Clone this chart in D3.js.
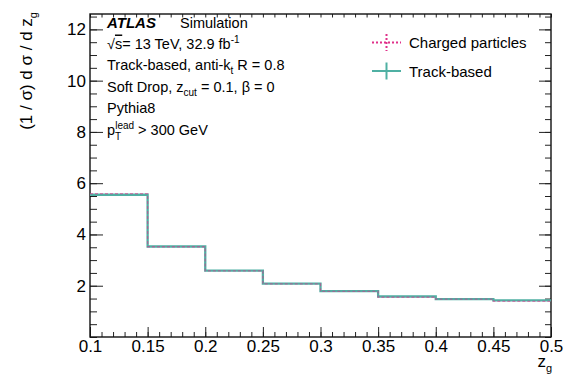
<!DOCTYPE html>
<html>
<head>
<meta charset="utf-8">
<script src="https://cdn.jsdelivr.net/npm/d3@7"></script>
<style>
  html, body { margin: 0; padding: 0; background: #fff; }
  svg { display: block; }
  text { font-family: "Liberation Sans", Arial, Helvetica, sans-serif; fill: #000; }
</style>
</head>
<body>
<svg id="chart" width="575" height="379"></svg>
<script>
// Bin edges of the groomed momentum fraction z_g
const binEdges = [0.1, 0.15, 0.2, 0.25, 0.3, 0.35, 0.4, 0.45, 0.5];
// Normalised distributions (1/sigma) dsigma/dz_g per bin
const chargedValues = [5.59, 3.52, 2.58, 2.07, 1.78, 1.55, 1.48, 1.39];
const trackValues   = [5.55, 3.53, 2.59, 2.08, 1.79, 1.58, 1.48, 1.43];
// Axis ticks
const xTickValues = [0.1, 0.15, 0.2, 0.25, 0.3, 0.35, 0.4, 0.45, 0.5];
const xTickLabels = ["0.1", "0.15", "0.2", "0.25", "0.3", "0.35", "0.4", "0.45", "0.5"];
const yTickValues = [2, 4, 6, 8, 10, 12];
const yTickLabels = ["2", "4", "6", "8", "10", "12"];
const legendLabels = ["Charged particles", "Track-based"];

const pinkColor = "#e0308a";
const tealColor = "#4fb0a3";

const svg = d3.select("#chart");
const margin = { left: 90, right: 24, top: 14, bottom: 42 };
const W = 575, H = 379;
const x0 = margin.left, x1 = W - margin.right;
const y0 = H - margin.bottom, y1 = margin.top;

const x = d3.scaleLinear().domain([0.1, 0.5]).range([x0, x1]);
const y = d3.scaleLinear().domain([0, 12.6]).range([y0, y1]);

const minorX = d3.range(10, 51).map(v => v / 100);
const minorY = d3.range(0, 26).map(v => v / 2).filter(v => v <= 12.5);

function styleAxis(g) {
  g.select(".domain").remove();
  g.selectAll(".tick line").attr("stroke", "#222").attr("stroke-width", 1);
  g.selectAll(".tick text").style("font-size", "17px").attr("fill", "#000");
}

// Bottom axis with labels (ticks point inward)
svg.append("g").attr("transform", `translate(0,${y0})`)
  .call(d3.axisBottom(x).tickValues(xTickValues)
    .tickFormat((d, i) => xTickLabels[i]).tickSize(-10).tickPadding(3))
  .call(styleAxis);
svg.append("g").attr("transform", `translate(0,${y0})`)
  .call(d3.axisBottom(x).tickValues(minorX).tickFormat("").tickSize(-5))
  .call(styleAxis);
// Top axis (short mirrored ticks)
svg.append("g").attr("transform", `translate(0,${y1})`)
  .call(d3.axisTop(x).tickValues(minorX).tickFormat("").tickSize(-3.5))
  .call(styleAxis);
// Left axis with labels
svg.append("g").attr("transform", `translate(${x0},0)`)
  .call(d3.axisLeft(y).tickValues(yTickValues)
    .tickFormat((d, i) => yTickLabels[i]).tickSize(-13).tickPadding(4))
  .call(styleAxis);
svg.append("g").attr("transform", `translate(${x0},0)`)
  .call(d3.axisLeft(y).tickValues(minorY).tickFormat("").tickSize(-7))
  .call(styleAxis);
// Right axis (mirrored ticks)
svg.append("g").attr("transform", `translate(${x1},0)`)
  .call(d3.axisRight(y).tickValues(yTickValues).tickFormat("").tickSize(-12))
  .call(styleAxis);
svg.append("g").attr("transform", `translate(${x1},0)`)
  .call(d3.axisRight(y).tickValues(minorY).tickFormat("").tickSize(-6))
  .call(styleAxis);

// Frame
svg.append("rect")
  .attr("x", x0).attr("y", y1)
  .attr("width", x1 - x0).attr("height", y0 - y1)
  .attr("fill", "none").attr("stroke", "#111").attr("stroke-width", 1.4);

// Step histograms
function stepPoints(values) {
  const pts = [];
  values.forEach((v, i) => {
    pts.push([binEdges[i], v]);
    pts.push([binEdges[i + 1], v]);
  });
  return pts;
}
const stepLine = d3.line().x(d => x(d[0])).y(d => y(d[1]));

svg.append("path")
  .datum(stepPoints(trackValues))
  .attr("d", stepLine)
  .attr("fill", "none").attr("stroke", tealColor).attr("stroke-width", 2.3);

svg.append("path")
  .datum(stepPoints(chargedValues))
  .attr("d", stepLine)
  .attr("fill", "none").attr("stroke", pinkColor).attr("stroke-width", 1.3)
  .attr("stroke-dasharray", "3,2").attr("opacity", 0.55);

// Y axis title
const yTitle = svg.append("text")
  .attr("transform", "translate(32,12) rotate(-90)")
  .attr("text-anchor", "end")
  .style("font-size", "17px");
yTitle.append("tspan").text("(1 / σ) d σ / d z");
yTitle.append("tspan").text("g").style("font-size", "11px").attr("dy", 5);

// X axis title
const xTitle = svg.append("text")
  .attr("x", 552).attr("y", 367)
  .attr("text-anchor", "end")
  .style("font-size", "17px");
xTitle.append("tspan").text("z");
xTitle.append("tspan").text("g").style("font-size", "11px").attr("dy", 5);

// Annotation block
const tx = 107, fs = "14.5px";
const lineY = [27.5, 48.5, 70, 91.5, 113, 134.5];

svg.append("text").attr("x", tx).attr("y", lineY[0])
  .style("font-size", "15px").style("font-weight", "bold").style("font-style", "italic")
  .text("ATLAS");
svg.append("text").attr("x", 180).attr("y", lineY[0])
  .style("font-size", fs).text("Simulation");

const l2 = svg.append("text").attr("x", tx).attr("y", lineY[1]).style("font-size", fs);
l2.append("tspan").text("√");
l2.append("tspan").text("s").style("text-decoration", "overline");
l2.append("tspan").text("= 13 TeV, 32.9 fb");
l2.append("tspan").text("-1").style("font-size", "10px").attr("dy", -6);

const l3 = svg.append("text").attr("x", tx).attr("y", lineY[2]).style("font-size", fs);
l3.append("tspan").text("Track-based, anti-k");
l3.append("tspan").text("t").style("font-size", "10px").attr("dy", 4);
l3.append("tspan").text(" R = 0.8").attr("dy", -4);

const l4 = svg.append("text").attr("x", tx).attr("y", lineY[3]).style("font-size", fs);
l4.append("tspan").text("Soft Drop, z");
l4.append("tspan").text("cut").style("font-size", "10px").attr("dy", 4);
l4.append("tspan").text(" = 0.1, β = 0").attr("dy", -4);

svg.append("text").attr("x", tx).attr("y", lineY[4]).style("font-size", fs).text("Pythia8");

const l6 = svg.append("text").attr("x", tx).attr("y", lineY[5]).style("font-size", fs);
l6.append("tspan").text("p");
l6.append("tspan").text("T").style("font-size", "10px").attr("dy", 5);
l6.append("tspan").text("lead").style("font-size", "10px").attr("dx", -6).attr("dy", -11);
l6.append("tspan").text(" > 300 GeV").attr("dy", 6);

// Legend
const legendRows = [
  { label: legendLabels[0], color: pinkColor, dash: "2,2", y: 42.5 },
  { label: legendLabels[1], color: tealColor, dash: null, y: 71 }
];
const lg = svg.append("g");
legendRows.forEach(r => {
  const hx0 = 372, hx1 = 401, cx = (hx0 + hx1) / 2;
  lg.append("line").attr("x1", hx0).attr("x2", hx1).attr("y1", r.y).attr("y2", r.y)
    .attr("stroke", r.color).attr("stroke-width", 2)
    .attr("stroke-dasharray", r.dash);
  lg.append("line").attr("x1", cx).attr("x2", cx).attr("y1", r.y - 8.5).attr("y2", r.y + 8.5)
    .attr("stroke", r.color).attr("stroke-width", 2)
    .attr("stroke-dasharray", r.dash);
  lg.append("text").attr("x", 409).attr("y", r.y + 5.5)
    .style("font-size", "15px").text(r.label);
});
</script>
</body>
</html>
